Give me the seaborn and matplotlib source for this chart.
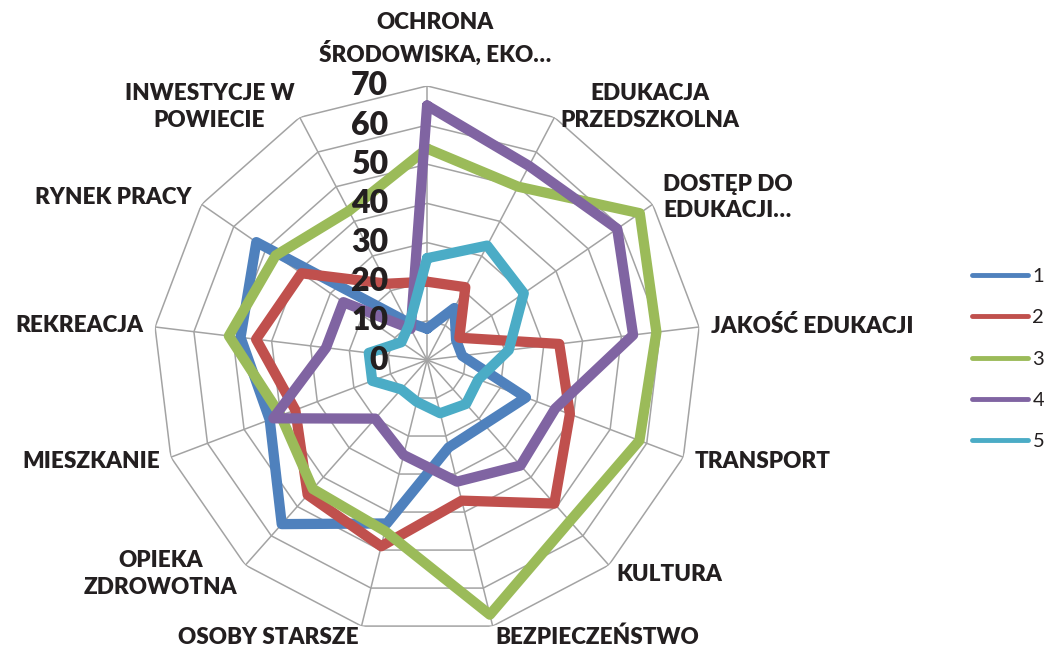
import numpy as np
import pandas as pd
import matplotlib
matplotlib.use("Agg")
import matplotlib.pyplot as plt
import matplotlib.transforms as mtransforms
import seaborn as sns

# categories clockwise from the top
categories = [
    "OCHRONA\nŚRODOWISKA, EKO…",
    "EDUKACJA\nPRZEDSZKOLNA",
    "DOSTĘP DO\nEDUKACJI…",
    "JAKOŚĆ EDUKACJI",
    "TRANSPORT",
    "KULTURA",
    "BEZPIECZEŃSTWO",
    "OSOBY STARSZE",
    "OPIEKA\nZDROWOTNA",
    "MIESZKANIE",
    "REKREACJA",
    "RYNEK PRACY",
    "INWESTYCJE W\nPOWIECIE",
]
series_names = ["1", "2", "3", "4", "5"]
series_1 = [8, 15, 9, 9, 27, 22, 23, 43, 56, 43, 48, 53, 11]
series_2 = [20, 21, 10, 34, 39, 49, 37, 49, 46, 36, 44, 39, 22]
series_3 = [54, 50, 66, 59, 58, 55, 67, 45, 44, 40, 51, 47, 43]
series_4 = [65, 56, 59, 53, 35, 36, 32, 25, 20, 42, 26, 26, 9]
series_5 = [26, 33, 30, 21, 14, 15, 14, 11, 10, 15, 15, 8, 10]
tick_values = [0, 10, 20, 30, 40, 50, 60, 70]

colors = ["#4F81BD", "#C0504D", "#9BBB59", "#8064A2", "#4BACC6"]
grid_color = "#A3A3A3"
text_color = "#231F20"

n = len(categories)
angles = np.linspace(0, 2 * np.pi, n, endpoint=False)
closed_angles = np.append(angles, 2 * np.pi)

# long table, each polygon closed by repeating the first value
rows = []
for name, vals in zip(series_names, [series_1, series_2, series_3, series_4, series_5]):
    for t, v in zip(closed_angles, list(vals) + [vals[0]]):
        rows.append((name, t, v))
df = pd.DataFrame(rows, columns=["series", "theta", "value"])

sns.set_theme(style="white")
plt.rcParams["font.family"] = ["Lato", "DejaVu Sans"]

fig = plt.figure(figsize=(10.44, 6.51), dpi=100)
ax = fig.add_axes([0.1466, 0.026, 0.525, 0.842], projection="polar")
ax.set_theta_zero_location("N")
ax.set_theta_direction(-1)

# polygon grid + spokes
for level in tick_values[1:]:
    ax.plot(closed_angles, [level] * len(closed_angles), color=grid_color, lw=1.1, zorder=1)
for a in angles:
    ax.plot([a, a], [0, tick_values[-1]], color=grid_color, lw=1.1, zorder=1)

sns.lineplot(data=df, x="theta", y="value", hue="series", palette=colors,
             sort=False, estimator=None, lw=7.4, ax=ax, zorder=3,
             solid_joinstyle="round", solid_capstyle="round", clip_on=False)

ax.set_ylim(0, tick_values[-1])
ax.set_xticks([])
ax.set_yticks([])
ax.grid(False)
ax.spines["polar"].set_visible(False)
ax.set_xlabel("")
ax.set_ylabel("")

# radial tick labels left of the top spoke
tick_tr = mtransforms.offset_copy(ax.transData, fig=fig, x=-39, y=0, units="dots")
for level in tick_values:
    ax.text(0, level, str(level), transform=tick_tr, ha="right", va="center",
            fontsize=23, fontweight="heavy", color=text_color, zorder=4)

# category labels just outside the outer ring
for a, label in zip(angles, categories):
    s, c = np.sin(a), np.cos(a)
    if abs(s) < 0.05:
        ha, va, dx, dy = "center", "bottom", 8, 20
    else:
        ha = "left" if s > 0 else "right"
        va = "center"
        dx, dy = 12 * s, 12 * c
    tr = mtransforms.offset_copy(ax.transData, fig=fig, x=dx, y=dy, units="dots")
    ax.text(a, tick_values[-1], label, transform=tr, ha=ha, va=va,
            multialignment="center", fontsize=16.2, fontweight="heavy",
            color=text_color, linespacing=1.35)

sns.move_legend(ax, "center left", bbox_to_anchor=(972 / 1044, 1 - 359 / 651),
                bbox_transform=fig.transFigure, frameon=False, title=None,
                fontsize=14.5, handlelength=2.8, handletextpad=0.2,
                labelspacing=1.2, borderpad=0, borderaxespad=0)
for line in ax.get_legend().get_lines():
    line.set_linewidth(3.5)
for txt in ax.get_legend().get_texts():
    txt.set_color(text_color)

fig.savefig("out.png", dpi=100)
